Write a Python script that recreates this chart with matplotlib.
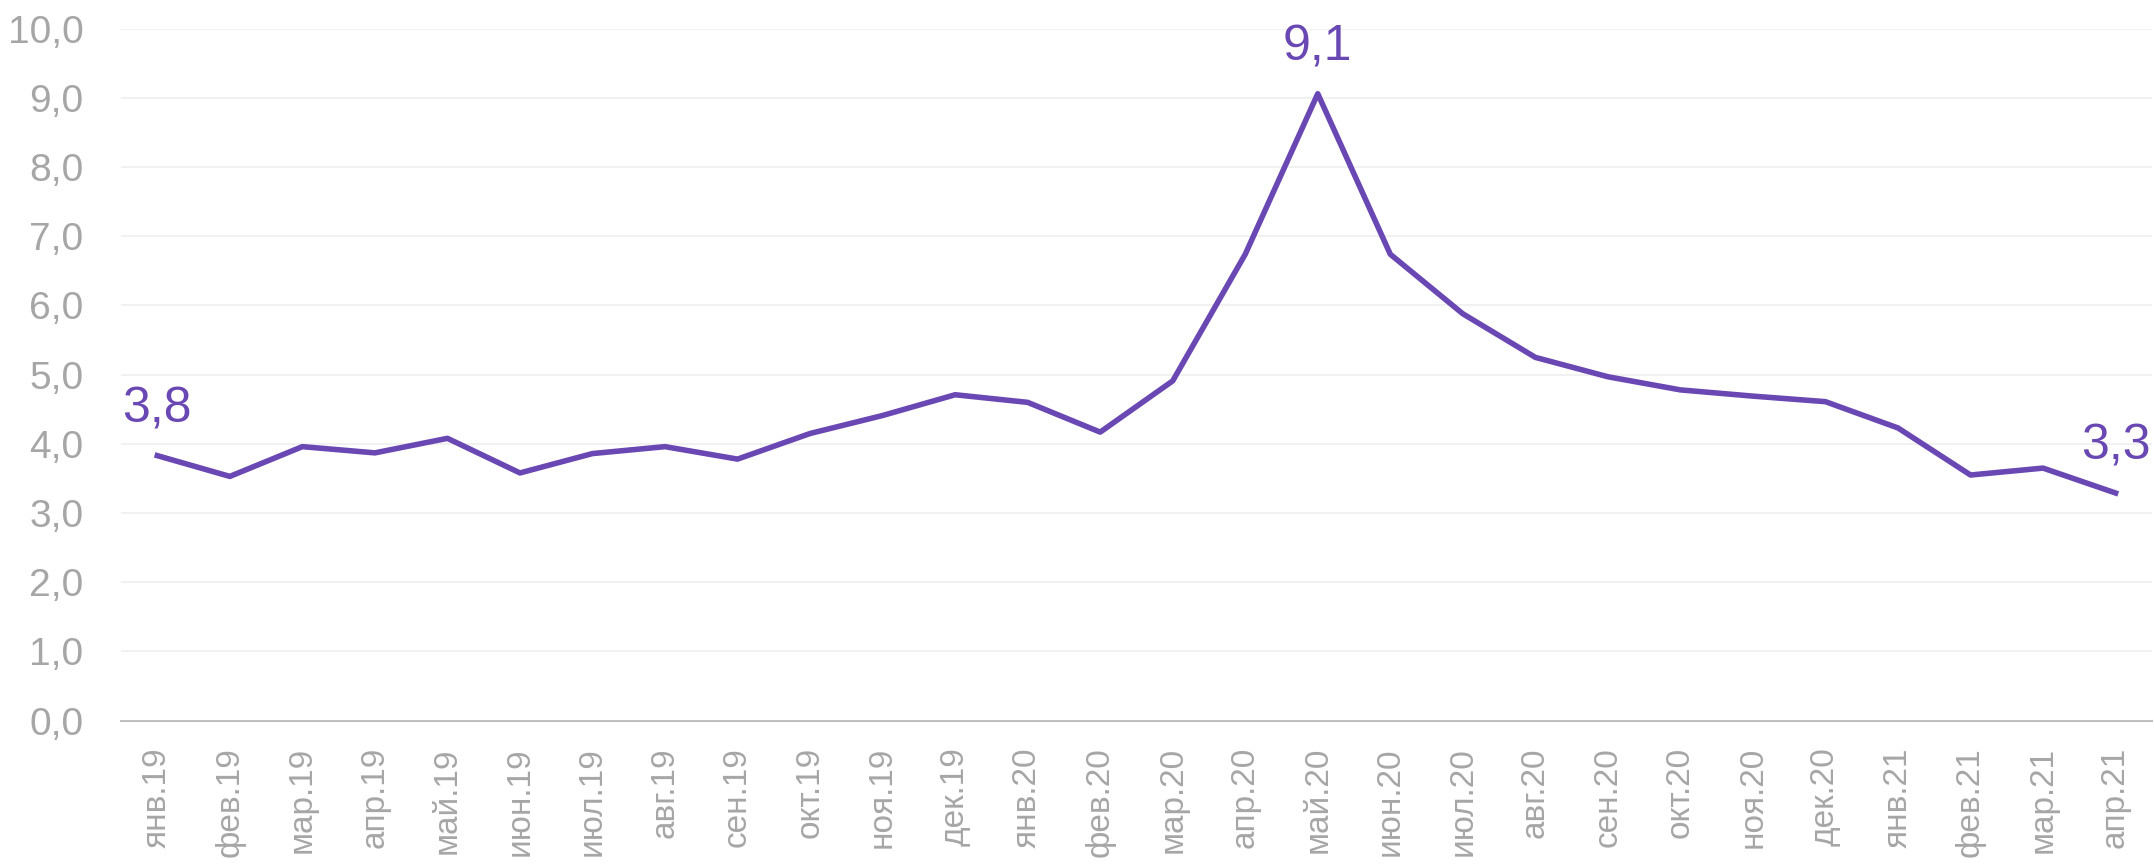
import matplotlib
matplotlib.use("Agg")
import matplotlib.pyplot as plt

months = ["янв.19", "фев.19", "мар.19", "апр.19", "май.19", "июн.19", "июл.19",
          "авг.19", "сен.19", "окт.19", "ноя.19", "дек.19",
          "янв.20", "фев.20", "мар.20", "апр.20", "май.20", "июн.20", "июл.20",
          "авг.20", "сен.20", "окт.20", "ноя.20", "дек.20",
          "янв.21", "фев.21", "мар.21", "апр.21"]
values = [3.83, 3.53, 3.96, 3.87, 4.08, 3.58, 3.86, 3.96, 3.78, 4.15, 4.41, 4.71,
          4.60, 4.17, 4.91, 6.74, 9.06, 6.74, 5.88, 5.25, 4.97, 4.78, 4.69, 4.61,
          4.23, 3.55, 3.65, 3.29]
labelled = [0, 16, 27]

purple = "#6A48B4"
grey = "#A6A6A6"
font = "Liberation Sans"

fig = plt.figure(figsize=(21.54, 8.66), dpi=100)
ax = fig.add_axes([0.0562, 0.1678, 0.9428, 0.7991])

x = list(range(len(months)))
ax.plot(x, values, color=purple, linewidth=4, solid_joinstyle="round", zorder=3)

# подписи значений
for i in labelled:
    ax.annotate(f"{values[i]:.1f}".replace(".", ","), (x[i], values[i]),
                xytext=(0, 17), textcoords="offset points", ha="center", va="bottom",
                fontsize=36, color=purple, family=font)

ax.set_xlim(-0.5, len(months) - 0.5)
ax.set_ylim(0, 10)
ax.set_yticks(range(0, 11))
ax.set_yticklabels([f"{v},0" for v in range(0, 11)], family=font, fontsize=28, color=grey)
ax.set_xticks(x)
ax.set_xticklabels(months, rotation=90, fontsize=24, color=grey, family=font)
ax.tick_params(axis="both", length=0)
ax.tick_params(axis="x", pad=19)
ax.tick_params(axis="y", pad=27)

ax.grid(axis="y", color="#EFEFEF", linewidth=1.2)
ax.set_axisbelow(True)
for s in ["top", "right", "left"]:
    ax.spines[s].set_visible(False)
ax.spines["bottom"].set_color("#BFBFBF")
ax.spines["bottom"].set_linewidth(1.5)

fig.savefig("out.png", dpi=100)
